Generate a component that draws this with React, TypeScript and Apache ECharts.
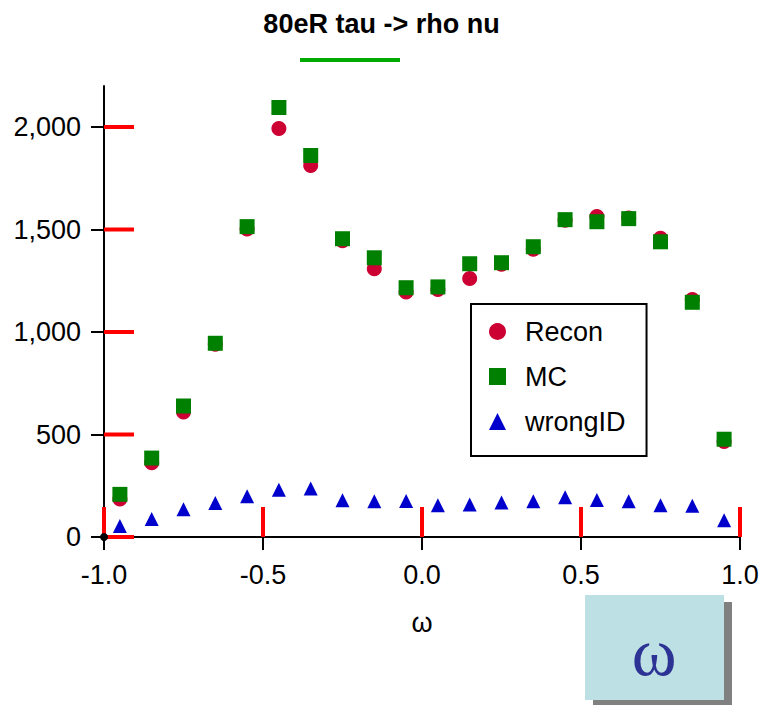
import React, { useEffect, useRef } from "react";
import * as echarts from "echarts";

const omegaBins = [-0.95, -0.85, -0.75, -0.65, -0.55, -0.45, -0.35, -0.25, -0.15, -0.05, 0.05, 0.15, 0.25, 0.35, 0.45, 0.55, 0.65, 0.75, 0.85, 0.95];
const reconCounts = [185, 362, 610, 940, 1502, 1993, 1812, 1445, 1309, 1195, 1207, 1261, 1330, 1404, 1545, 1563, 1556, 1457, 1158, 466];
const mcCounts = [208, 385, 639, 945, 1514, 2095, 1861, 1455, 1362, 1216, 1220, 1333, 1338, 1416, 1548, 1538, 1553, 1440, 1145, 477];
const wrongIdCounts = [54, 88, 135, 166, 199, 231, 236, 179, 174, 176, 155, 158, 168, 174, 194, 181, 174, 155, 152, 82];

const yTicks = [0, 500, 1000, 1500, 2000];
const xTicks = [-1.0, -0.5, 0.0, 0.5, 1.0];
const seriesNames = ["Recon", "MC", "wrongID"];

const FONT = "'Liberation Sans', Arial, Helvetica, sans-serif";
const TICK_LEN = 13;

const pairs = (ys: number[]) => omegaBins.map((x, i) => [x, ys[i]]);

export default function App() {
  const ref = useRef<HTMLDivElement>(null);

  useEffect(() => {
    if (!ref.current) return;
    const chart = echarts.init(ref.current, undefined, { renderer: "svg" });
    const tickLine = { color: "#000", width: 2 };

    const innerTicks = (dir: "x" | "y") => (_params: any, api: any) => {
      const p = api.coord([api.value(0), api.value(1)]);
      const end = dir === "x" ? [p[0], p[1] - 30] : [p[0] + 30, p[1]];
      return {
        type: "line",
        shape: { x1: p[0], y1: p[1], x2: end[0], y2: end[1] },
        style: { stroke: "#f00", lineWidth: 4 },
      };
    };

    chart.setOption({
      animation: false,
      backgroundColor: "#ffffff",
      title: {
        text: "80eR tau -> rho nu",
        left: "center",
        top: 5,
        textStyle: { fontFamily: FONT, fontWeight: "bold", fontSize: 27, color: "#000" },
      },
      grid: { left: 104, right: 23, top: 86, bottom: 168 },
      xAxis: {
        type: "value",
        min: -1,
        max: 1,
        interval: 0.5,
        name: "ω",
        nameLocation: "middle",
        nameGap: 72,
        nameTextStyle: { fontFamily: FONT, fontSize: 27, color: "#000" },
        axisLine: { show: true, onZero: false, lineStyle: { color: "#000", width: 2 } },
        axisTick: { show: true, inside: false, length: TICK_LEN, lineStyle: tickLine, customValues: xTicks },
        axisLabel: {
          margin: 24,
          fontFamily: FONT,
          fontSize: 27,
          color: "#000",
          customValues: xTicks,
          formatter: (v: number) => v.toFixed(1),
        },
        splitLine: { show: false },
      },
      yAxis: {
        type: "value",
        min: 0,
        max: 2200,
        interval: 500,
        axisLine: { show: true, onZero: false, lineStyle: { color: "#000", width: 2 } },
        axisTick: { show: true, inside: false, length: TICK_LEN, lineStyle: tickLine, customValues: yTicks },
        axisLabel: {
          margin: 23,
          fontFamily: FONT,
          fontSize: 27,
          color: "#000",
          customValues: yTicks,
          formatter: (v: number) => v.toLocaleString("en-US"),
        },
        splitLine: { show: false },
      },
      legend: {
        data: seriesNames,
        orient: "vertical",
        left: 471,
        top: 304,
        padding: [14, 21, 21, 18],
        itemWidth: 17,
        itemHeight: 17,
        itemGap: 18,
        borderColor: "#000",
        borderWidth: 2,
        backgroundColor: "#fff",
        textStyle: { fontFamily: FONT, fontSize: 27, color: "#000", lineHeight: 27, padding: [0, 0, 0, 14] },
      },
      series: [
        { type: "custom", renderItem: innerTicks("x"), data: xTicks.map((x) => [x, 0]) },
        { type: "custom", renderItem: innerTicks("y"), data: yTicks.map((y) => [-1, y]) },
        { name: "Recon", type: "scatter", symbol: "circle", symbolSize: 15, itemStyle: { color: "#CC0033", opacity: 1 }, data: pairs(reconCounts) },
        { name: "MC", type: "scatter", symbol: "rect", symbolSize: 15, itemStyle: { color: "#008000", opacity: 1 }, data: pairs(mcCounts) },
        { name: "wrongID", type: "scatter", symbol: "triangle", symbolSize: 14, itemStyle: { color: "#0000CC", opacity: 1 }, data: pairs(wrongIdCounts) },
        { name: "origin", type: "scatter", symbol: "circle", symbolSize: 8, itemStyle: { color: "#000", opacity: 1 }, data: [[-1, 0]], z: 5 },
      ],
      graphic: [
        { type: "rect", shape: { x: 593, y: 602, width: 139, height: 103 }, style: { fill: "#808080" } },
        { type: "rect", shape: { x: 585, y: 595, width: 139, height: 105 }, style: { fill: "#BCE0E3" } },
        {
          type: "text",
          x: 654,
          y: 652,
          style: {
            text: "ω",
            fill: "#2D3394",
            font: "68px 'Liberation Serif', 'Times New Roman', serif",
            textAlign: "center",
            textVerticalAlign: "middle",
          },
        },
        { type: "line", shape: { x1: 300, y1: 60, x2: 400, y2: 60 }, style: { stroke: "#0a0", lineWidth: 4 } },
      ],
    });

    return () => chart.dispose();
  }, []);

  return <div ref={ref} style={{ position: "fixed", left: 0, top: 0, width: 763, height: 705 }} />;
}
